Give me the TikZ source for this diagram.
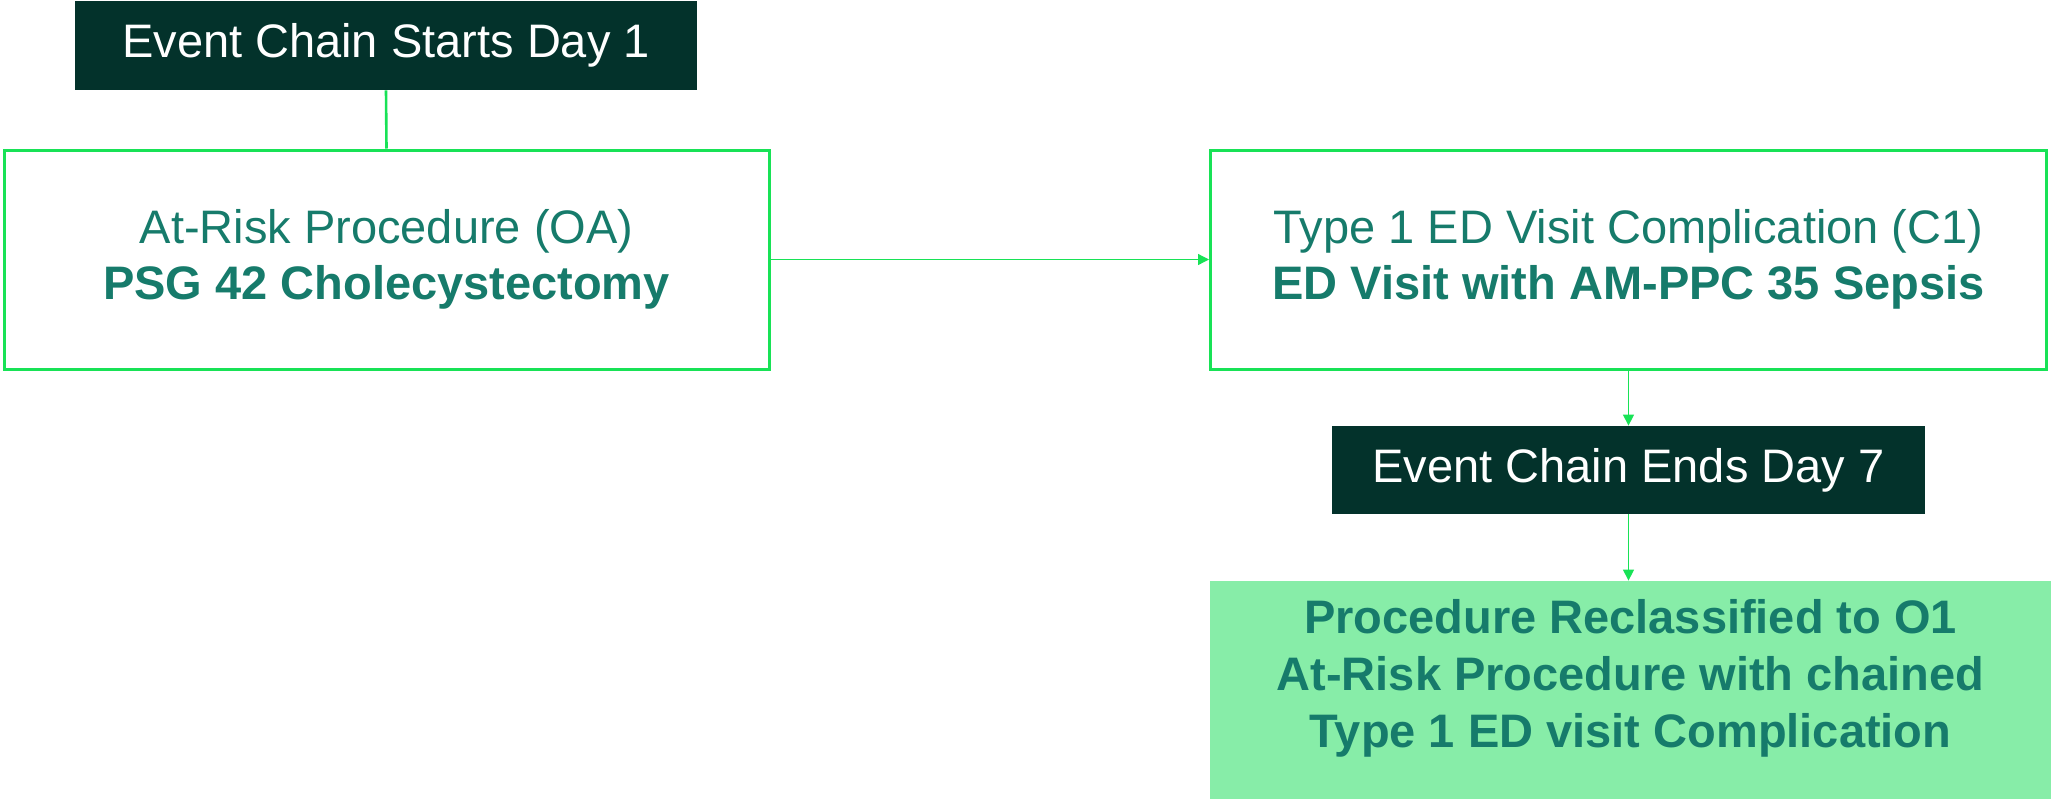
\documentclass[tikz,border=0pt]{standalone}
\usepackage{fontspec}
\setmainfont{Liberation Sans}
\usetikzlibrary{arrows.meta}
\definecolor{darkbox}{HTML}{03322B}
\definecolor{tealtext}{HTML}{167B6B}
\definecolor{brightgreen}{HTML}{18E256}
\definecolor{mintfill}{HTML}{87EDA8}
\begin{document}
\begin{tikzpicture}[x=0.5pt,y=-0.5pt,
  every node/.style={font=\fontsize{23.5}{28}\selectfont, inner sep=0pt, align=center},
  darkstep/.style={fill=darkbox, draw=none, text=white},
  framebox/.style={draw=brightgreen, line width=1.5pt, fill=white, text=tealtext},
  resultbox/.style={fill=mintfill, draw=none},
  resulttext/.style={text=tealtext, font=\fontsize{23.5}{28.5}\selectfont\bfseries},
  link/.style={draw=brightgreen, line width=0.65pt, -{Triangle[length=5.5pt,width=5.5pt]}},
  stem/.style={draw=brightgreen, line width=1.3pt}
]
\useasboundingbox (0,0) rectangle (2051,799);

% header and step boxes
\node[darkstep, minimum width=311pt, minimum height=44.5pt] (start) at (386,45.5) {Event Chain Starts Day 1};
\node[framebox, minimum width=382.5pt, minimum height=109.5pt] (oa) at (386.5,259.5)
  {At-Risk Procedure (OA)\\\textbf{PSG 42 Cholecystectomy}};
\node[framebox, minimum width=418pt, minimum height=109.5pt] (c1) at (1628.5,259.5)
  {Type 1 ED Visit Complication (C1)\\\textbf{ED Visit with AM-PPC 35 Sepsis}};
\node[darkstep, minimum width=296.5pt, minimum height=44pt] (end) at (1628.5,470) {Event Chain Ends Day 7};
\node[resultbox, minimum width=420.5pt, minimum height=109pt] (res) at (1630.5,690) {};
\node[resulttext] (restext) at ([yshift=6pt]res.center)
  {Procedure Reclassified to O1\\At-Risk Procedure with chained\\Type 1 ED visit Complication};

% connectors
\draw[stem] (start.south) -- (oa.north);
\draw[link] (oa.east) -- (c1.west);
\draw[link] (c1.south) -- (end.north);
\draw[link] (end.south) -- (res.north -| end.south);
\end{tikzpicture}
\end{document}
